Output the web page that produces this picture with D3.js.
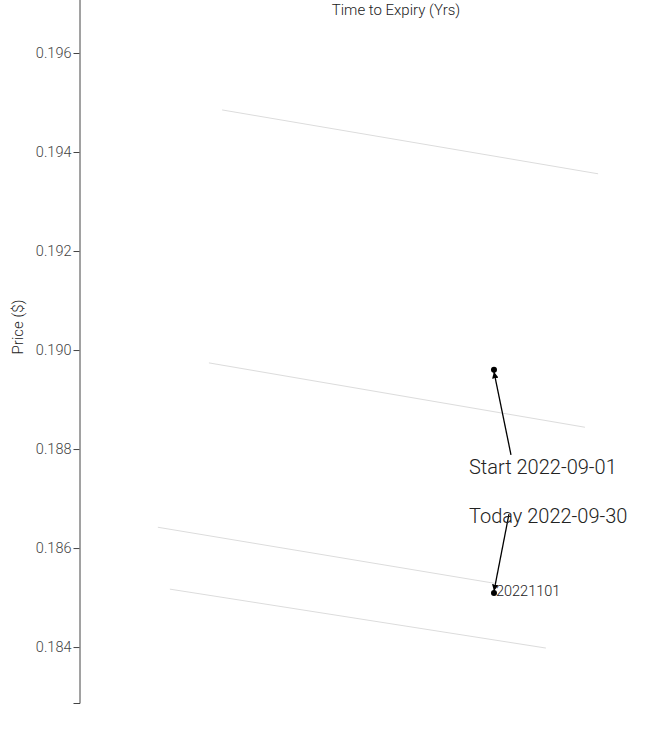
<!DOCTYPE html>
<html>
<head>
<meta charset="utf-8">
<script src="https://cdn.jsdelivr.net/npm/d3@7"></script>
<style>
  html, body { margin: 0; padding: 0; background: #fff; }
  svg { display: block; font-family: Roboto, "Noto Sans", sans-serif; }
</style>
</head>
<body>
<div id="chart"></div>
<script>
// ---- data ----
const contracts = ["A", "B", "C", "D"];
const startTTE = [0.0378, 0.0343, 0.0207, 0.0239];   // time to expiry (yrs) at line start
const endTTE   = [0.1378, 0.1343, 0.1101, 0.1239];   // time to expiry (yrs) at line end
const startPrice = [0.19485, 0.18974, 0.18642, 0.18517];
const endPrice   = [0.19356, 0.18844, 0.18529, 0.18398];

const markerLabels = ["Start 2022-09-01", "Today 2022-09-30"];
const markerTTE = [0.1101, 0.1101];
const markerPrice = [0.18960, 0.18509];
const contractLabel = "20221101";

const yTicks = [0.184, 0.186, 0.188, 0.190, 0.192, 0.194, 0.196];
const yDomain = [0.18287, 0.19750];
const xDomain = [0, 0.15];

// ---- layout ----
const W = 662, H = 741;
const svg = d3.select("#chart").append("svg").attr("width", W).attr("height", H);

const x = d3.scaleLinear().domain(xDomain).range([80, 644]);
const y = d3.scaleLinear().domain(yDomain).range([703, -21.25]);

// axis
const yAxis = d3.axisLeft(y).tickValues(yTicks).tickFormat(d3.format(".3f")).tickSize(6).tickSizeOuter(6);
const gy = svg.append("g").attr("transform", "translate(79.5,0)").call(yAxis);
gy.select(".domain").attr("stroke", "#444");
gy.selectAll(".tick line").attr("stroke", "#444");
gy.selectAll(".tick text").attr("fill", "#444").attr("font-size", 14.5).attr("font-weight", 300)
  .attr("font-family", "Roboto, sans-serif").attr("x", -8);

// axis titles
svg.append("text").attr("x", 396).attr("y", 15).attr("text-anchor", "middle")
  .attr("font-size", 15).attr("font-weight", 300).attr("fill", "#222").text("Time to Expiry (Yrs)");
svg.append("text").attr("transform", "translate(23,327) rotate(-90)").attr("text-anchor", "middle")
  .attr("font-size", 15).attr("font-weight", 300).attr("fill", "#222").text("Price ($)");

// lines
const lineData = contracts.map((c, i) => [
  { t: startTTE[i], p: startPrice[i] },
  { t: endTTE[i], p: endPrice[i] }
]);
const line = d3.line().x(d => x(d.t)).y(d => y(d.p));
svg.append("g").selectAll("path").data(lineData).join("path")
  .attr("d", line).attr("fill", "none").attr("stroke", "#dcdcdc").attr("stroke-width", 1);

// markers
const defs = svg.append("defs");
defs.append("marker").attr("id", "arrow").attr("viewBox", "0 -5 10 10")
  .attr("refX", 10).attr("refY", 0).attr("markerWidth", 5).attr("markerHeight", 5)
  .attr("orient", "auto")
  .append("path").attr("d", "M0,-5L10,0L0,5Z").attr("fill", "#000");

const markers = markerLabels.map((l, i) => ({ label: l, t: markerTTE[i], p: markerPrice[i] }));
const noteOffsets = [{ dx: -25, dy: 104, lx: 17, ly: 85 }, { dx: -25, dy: -70, lx: 15, ly: -79 }];

markers.forEach((m, i) => {
  const px = x(m.t), py = y(m.p);
  const o = noteOffsets[i];
  svg.append("circle").attr("cx", px).attr("cy", py).attr("r", 3).attr("fill", "#000");
  svg.append("line")
    .attr("x1", px + o.lx).attr("y1", py + o.ly)
    .attr("x2", px).attr("y2", py + (i === 0 ? 2 : -2))
    .attr("stroke", "#000").attr("stroke-width", 1.3)
    .attr("marker-end", "url(#arrow)");
  svg.append("text").attr("x", px + o.dx).attr("y", py + o.dy)
    .attr("font-size", 20).attr("font-weight", 300).attr("fill", "#222").text(m.label);
});

// contract label at today point
svg.append("text").attr("x", x(markerTTE[1]) + 2).attr("y", y(markerPrice[1]) + 3)
  .attr("font-size", 14.5).attr("font-weight", 300).attr("fill", "#222").text(contractLabel);
</script>
</body>
</html>
